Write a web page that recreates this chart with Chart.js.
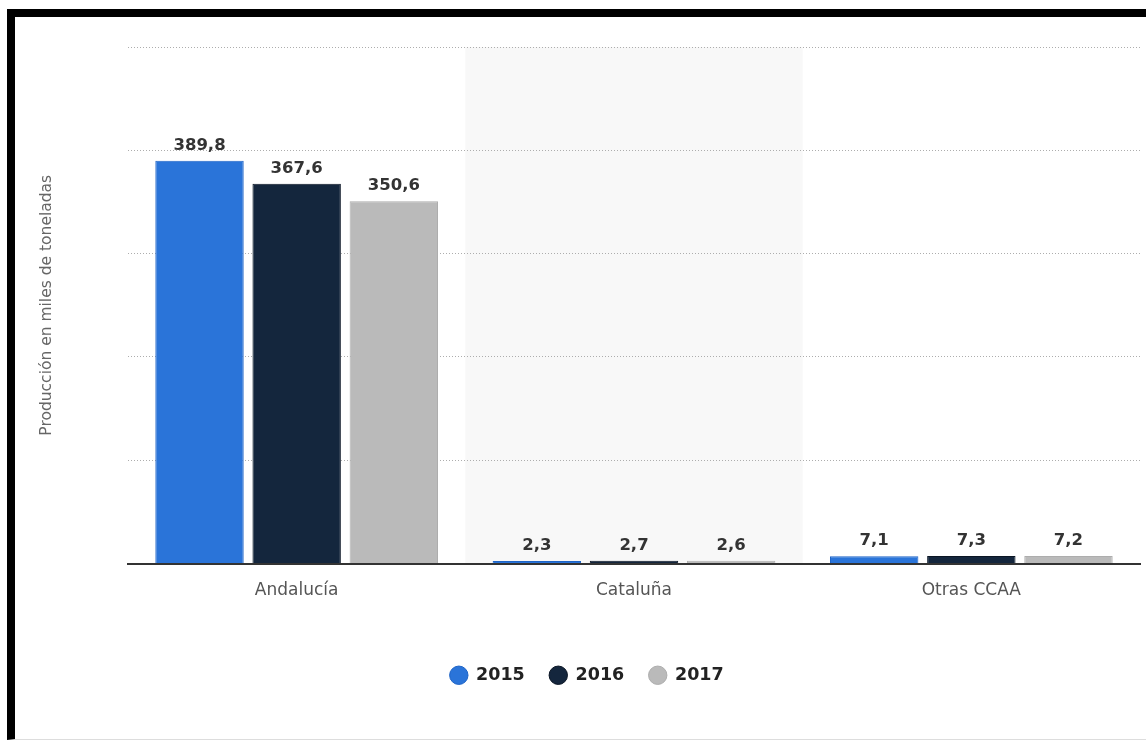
<!DOCTYPE html>
<html>
<head>
<meta charset="utf-8">
<script src="https://cdn.jsdelivr.net/npm/chart.js@4"></script>
<style>
  html, body { margin: 0; padding: 0; background: #fff; }
  .wrap { position: relative; width: 1146px; height: 740px; overflow: hidden; }
  #chart { position: absolute; left: 0; top: 0; }
  .frame {
    position: absolute; left: 7px; top: 9px; width: 1139px; height: 731px;
    box-sizing: border-box;
    border-top: 8px solid #000; border-left: 8px solid #000;
    border-bottom: 1px solid #ddd;
    pointer-events: none;
  }
</style>
</head>
<body>
<div class="wrap">
  <canvas id="chart" width="1146" height="740"></canvas>
  <div class="frame"></div>
</div>
<script>
const regiones = ['Andalucía', 'Cataluña', 'Otras CCAA'];
const anios = ['2015', '2016', '2017'];
const prod2015 = [389.8, 2.3, 7.1];
const prod2016 = [367.6, 2.7, 7.3];
const prod2017 = [350.6, 2.6, 7.2];

const colores = ['#2a74d9', '#14263d', '#bababa'];
const bordes = ['#1f64c6', '#0a1524', '#adadad'];

Chart.defaults.font.family = "'DejaVu Sans', Verdana, sans-serif";

const fmt = v => v.toFixed(1).replace('.', ',');

// light band behind the middle category
const banda = {
  id: 'banda',
  beforeDraw(chart) {
    const {ctx, chartArea, scales} = chart;
    const x = scales.x;
    const w = (x.right - x.left) / regiones.length;
    const cx = x.getPixelForValue(1);
    ctx.save();
    ctx.fillStyle = '#f8f8f8';
    ctx.fillRect(cx - w / 2, chartArea.top, w, chartArea.bottom - chartArea.top);
    ctx.restore();
  }
};

// value labels on top of each bar
const etiquetas = {
  id: 'etiquetas',
  afterDatasetsDraw(chart) {
    const ctx = chart.ctx;
    ctx.save();
    ctx.font = "bold 16.5px 'DejaVu Sans', Verdana, sans-serif";
    ctx.fillStyle = '#333';
    ctx.textAlign = 'center';
    ctx.textBaseline = 'alphabetic';
    chart.data.datasets.forEach((ds, i) => {
      chart.getDatasetMeta(i).data.forEach((bar, j) => {
        ctx.fillText(fmt(ds.data[j]), bar.x, bar.y - 11);
      });
    });
    ctx.restore();
  }
};

const series = [prod2015, prod2016, prod2017];

new Chart(document.getElementById('chart'), {
  type: 'bar',
  data: {
    labels: regiones,
    datasets: series.map((d, i) => ({
      label: anios[i],
      data: d,
      backgroundColor: colores[i],
      borderColor: bordes[i],
      borderWidth: 1,
      categoryPercentage: 0.864,
      barPercentage: 0.91
    }))
  },
  options: {
    responsive: false,
    animation: false,
    devicePixelRatio: 1,
    layout: { padding: { left: 34, right: 6, top: 47, bottom: 46 } },
    plugins: {
      tooltip: { enabled: false },
      legend: {
        position: 'bottom',
        labels: {
          usePointStyle: true,
          pointStyle: 'circle',
          boxWidth: 17,
          boxHeight: 13,
          padding: 25,
          color: '#222',
          font: { size: 17.5, weight: 'bold' }
        }
      }
    },
    scales: {
      x: {
        grid: { display: false },
        border: { color: '#333', width: 2 },
        ticks: { color: '#555', font: { size: 17 }, padding: 9 },
        afterFit(scale) { scale.height = 78; }
      },
      y: {
        min: 0,
        max: 500,
        ticks: { display: false, stepSize: 100 },
        grid: { color: '#adadad', drawTicks: false, lineWidth: 1 },
        border: { display: false, dash: [1, 2] },
        title: {
          display: true,
          text: 'Producción en miles de toneladas',
          color: '#666',
          font: { size: 15.5 }
        },
        afterFit(scale) { scale.width = 94; }
      }
    }
  },
  plugins: [banda, etiquetas]
});
</script>
</body>
</html>
